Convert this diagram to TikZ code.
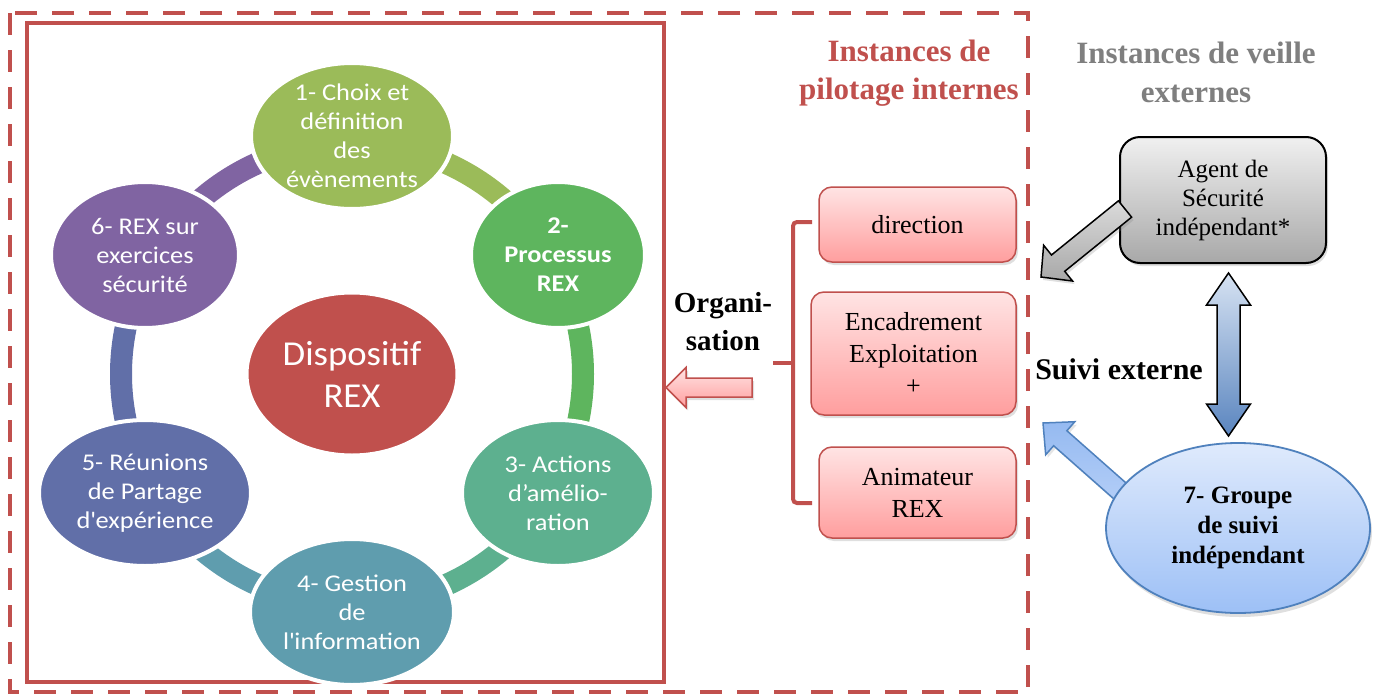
\documentclass[tikz,border=0pt]{standalone}
\usepackage{fontspec}
\setmainfont{Liberation Serif}
\newfontfamily\calfont[FakeStretch=1.1]{Carlito}
\newfontfamily\dispfont[FakeStretch=1.05]{Carlito}
\usetikzlibrary{shapes.geometric,shadows,calc}
\definecolor{rex}{HTML}{C0504D}
\definecolor{cA}{HTML}{9BBB59}
\definecolor{cB}{HTML}{5EB55E}
\definecolor{cC}{HTML}{5DB08F}
\definecolor{cD}{HTML}{5F9DAE}
\definecolor{cE}{HTML}{616FA8}
\definecolor{cF}{HTML}{8064A2}
\definecolor{pinkT}{HTML}{FFE4E4}
\definecolor{pinkB}{HTML}{FF9E9E}
\definecolor{greyT}{HTML}{F0F0F0}
\definecolor{greyB}{HTML}{A8A8A8}
\definecolor{blueT}{HTML}{DFEAFC}
\definecolor{blueB}{HTML}{9DC0F6}
\definecolor{blueL}{HTML}{4F81BD}
\definecolor{dblT}{HTML}{D6E2F2}
\definecolor{dblB}{HTML}{5A85BF}
\definecolor{titlegrey}{HTML}{7F7F7F}
\newcommand\blockarrow[6]{%
  \coordinate (#2-h) at ($(#2)!#3!(#1)$);
  \path[#6] (#2) -- ($(#2-h)!#4!90:(#2)$) -- ($(#2-h)!#5!90:(#2)$)
    -- ($(#1)!#5!90:(#2)$) -- ($(#1)!#5!-90:(#2)$)
    -- ($(#2-h)!#5!-90:(#2)$) -- ($(#2-h)!#4!-90:(#2)$) -- cycle;}
\begin{document}
\begin{tikzpicture}[x=1pt,y=-1pt,
  outerdash/.style={draw=rex, line width=4.5pt, dash pattern=on 22pt off 15pt},
  innerframe/.style={draw=rex, line width=4.5pt},
  ring/.style={line width=22pt},
  bub/.style={ellipse, draw=white, line width=4pt, inner sep=0pt},
  bubtxt/.style={text=white, align=center, inner sep=0pt, font=\calfont\fontsize{24}{29}\selectfont},
  pinkbox/.style={rectangle, rounded corners=13pt, draw=rex, line width=1.5pt,
     top color=pinkT, bottom color=pinkB, inner sep=0pt, align=center,
     drop shadow={shadow xshift=2pt, shadow yshift=-3pt, opacity=0.25},
     font=\fontsize{26}{32}\selectfont},
  greybox/.style={rectangle, rounded corners=20pt, draw=black, line width=2pt,
     top color=greyT, bottom color=greyB, inner sep=0pt, align=center,
     drop shadow={shadow xshift=2pt, shadow yshift=-3pt, opacity=0.25},
     font=\fontsize{25}{29}\selectfont},
  brace/.style={draw=rex, line width=4pt, rounded corners=4pt},
  titred/.style={text=rex, align=center, font=\bfseries\fontsize{31}{38}\selectfont},
  titgrey/.style={text=titlegrey, align=center, font=\bfseries\fontsize{31}{39}\selectfont},
  boldlab/.style={align=center, font=\bfseries\fontsize{29}{38}\selectfont},
]
\useasboundingbox (0,0) rectangle (1376,696);
\fill[white] (0,0) rectangle (1376,696);

% frames
\coordinate (oTL) at (10,13); \coordinate (oBR) at (1028,692);
\draw[outerdash] (oTL) rectangle (oBR);
\coordinate (iTL) at (27,23); \coordinate (iBR) at (664,682);
\draw[innerframe] (iTL) rectangle (iBR);

% ring
\coordinate (ctr) at (352,374);
\begin{scope}[shift={(ctr)}]
\draw[ring, draw=cA] (90:231pt) arc[start angle=90, end angle=30, radius=231pt];
\draw[ring, draw=cB] (30:231pt) arc[start angle=30, end angle=-30, radius=231pt];
\draw[ring, draw=cC] (-30:231pt) arc[start angle=-30, end angle=-90, radius=231pt];
\draw[ring, draw=cD] (-90:231pt) arc[start angle=-90, end angle=-150, radius=231pt];
\draw[ring, draw=cE] (-150:231pt) arc[start angle=-150, end angle=-210, radius=231pt];
\draw[ring, draw=cF] (150:231pt) arc[start angle=150, end angle=90, radius=231pt];
\end{scope}

% cycle nodes
\node[bub, fill=cA, minimum width=202pt, minimum height=146pt] (c1) at (352,136) {};
\node[bubtxt] (t1) at (c1) {1- Choix et\\définition\\des\\évènements};
\node[bub, fill=cB, minimum width=174pt, minimum height=146pt] (c2) at (558,255) {};
\node[bubtxt, font=\calfont\bfseries\fontsize{24}{29}\selectfont] (t2) at (c2) {2-\\Processus\\REX};
\node[bub, fill=cC, minimum width=192pt, minimum height=146pt] (c3) at (558,493) {};
\node[bubtxt] (t3) at (c3) {3- Actions\\d’amélio-\\ration};
\node[bub, fill=cD, minimum width=204pt, minimum height=146pt] (c4) at (352,612) {};
\node[bubtxt] (t4) at (c4) {4- Gestion\\de\\l\textquotesingle information};
\node[bub, fill=cE, minimum width=212pt, minimum height=146pt] (c5) at (145,493) {};
\node[bubtxt] (t5) at (c5) {5- Réunions\\de Partage\\d\textquotesingle expérience};
\node[bub, fill=cF, minimum width=188pt, minimum height=146pt] (c6) at (145,255) {};
\node[bubtxt] (t6) at (c6) {6- REX sur\\exercices\\sécurité};
\node[bub, fill=rex, minimum width=211pt, minimum height=163pt] (c0) at (ctr) {};
\node[bubtxt, font=\dispfont\fontsize{35}{42}\selectfont] (t0) at (c0) {Dispositif\\REX};

% titles
\node[titred] (tp) at (909,73) {Instances de\\pilotage internes};
\node[titgrey] (tv) at (1196,72) {Instances de veille\\externes};
\node[boldlab] (org) at (723,322) {Organi-\\sation};
\node[boldlab, font=\bfseries\fontsize{30}{36}\selectfont] (sui) at (1119,369) {Suivi externe};

% internal boxes
\node[pinkbox, minimum width=197pt, minimum height=75pt] (b1) at (917.5,224.5) {direction};
\node[pinkbox, minimum width=205pt, minimum height=123pt] (b2) at (913.5,353.5) {Encadrement\\Exploitation\\+};
\node[pinkbox, minimum width=197pt, minimum height=91pt] (b3) at (917.5,492.5) {Animateur\\REX};

% brace
\coordinate (brT) at (812,222); \coordinate (brTc) at (793,222);
\coordinate (brB) at (812,503); \coordinate (brBc) at (793,503);
\coordinate (brM) at (793,363); \coordinate (brL) at (773,363);
\draw[brace] (brT) -- (brTc) -- (brBc) -- (brB);
\draw[brace] (brM) -- (brL);

% red arrow
\coordinate (rS) at (752,387.5); \coordinate (rT) at (666,387.5);
\blockarrow{rS}{rT}{20pt}{20pt}{9.5pt}{draw=rex, line width=1.5pt, top color=pinkT, bottom color=pinkB, drop shadow={shadow xshift=2pt, shadow yshift=-3pt, opacity=0.25}}

% external: agent box + grey arrow
\node[greybox, minimum width=206pt, minimum height=126pt] (ag) at (1223,200) {Agent de\\Sécurité\\indépendant*};
\coordinate (gS) at (1125,209); \coordinate (gT) at (1041,277);
\blockarrow{gS}{gT}{22pt}{23pt}{10.5pt}{draw=black, line width=1.5pt, top color=greyT!70!greyB, bottom color=greyB, drop shadow={shadow xshift=2pt, shadow yshift=-3pt, opacity=0.25}}

% blue arrow + group ellipse
\coordinate (bS) at (1137,506); \coordinate (bT) at (1043,423);
\blockarrow{bS}{bT}{23pt}{22pt}{10pt}{draw=blueL, line width=1.5pt, top color=blueB!90!blueL, bottom color=blueB!60!blueT, drop shadow={shadow xshift=2pt, shadow yshift=-3pt, opacity=0.2}}
\node[ellipse, draw=blueL, line width=1.8pt, top color=blueT, bottom color=blueB, inner sep=0pt,
   minimum width=264pt, minimum height=170pt,
   drop shadow={shadow xshift=2pt, shadow yshift=-4pt, opacity=0.25}] (g7) at (1238,528) {};
\node[align=center, inner sep=0pt, font=\bfseries\fontsize{25}{30}\selectfont] (t7) at (g7) {7- Groupe\\de suivi\\indépendant};

% double arrow
\coordinate (dT) at (1228.5,273); \coordinate (dB) at (1228.5,436);
\path[draw=black, line width=1.5pt, top color=dblT, bottom color=dblB]
  (dT) -- ++(22,32) -- ++(-10.5,0) -- ($(dB)+(11.5,-32)$) -- ++(10.5,0) -- (dB)
  -- ++(-22,-32) -- ++(10.5,0) -- ($(dT)+(-11.5,32)$) -- ++(-10.5,0) -- cycle;
\end{tikzpicture}
\end{document}
